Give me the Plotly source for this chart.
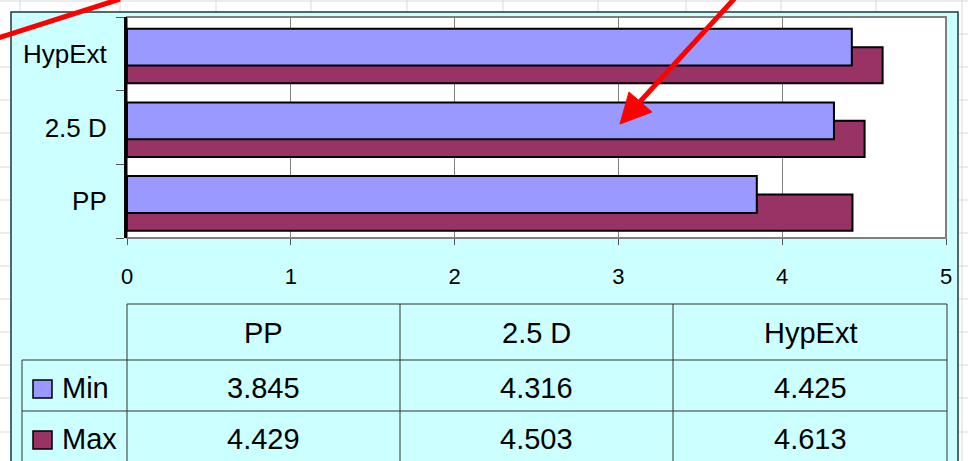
import plotly.graph_objects as go

# data
categories = ['PP', '2.5 D', 'HypExt']
min_vals = [3.845, 4.316, 4.425]
max_vals = [4.429, 4.503, 4.613]
series_names = ['Min', 'Max']

MIN_COLOR = '#9999FF'
MAX_COLOR = '#993366'
CYAN = '#CCFFFF'
FONT = 'Liberation Sans, Arial, Helvetica, sans-serif'

W, H = 968, 461
L, R, T, B = 127, 22, 17, 223
PW, PH = W - L - R, H - T - B


# pixel -> paper helpers for decorations
def px(x):
    return (x - L) / PW


def py(y):
    return (H - B - y) / PH


fig = go.Figure()

# Max first so Min sits on top of it (Excel overlap look)
fig.add_trace(go.Bar(y=categories, x=max_vals, orientation='h', name='Max',
                     marker=dict(color=MAX_COLOR, line=dict(color='black', width=2)),
                     offset=-0.40, width=0.49, hoverinfo='x'))
fig.add_trace(go.Bar(y=categories, x=min_vals, orientation='h', name='Min',
                     marker=dict(color=MIN_COLOR, line=dict(color='black', width=2)),
                     offset=-0.16, width=0.50, hoverinfo='x'))

shapes = []

# spreadsheet grid behind the chart
for gx in [20, 120, 216, 311, 407, 503, 598, 686, 781, 876, 962]:
    shapes.append(dict(type='line', xref='paper', yref='paper', layer='below',
                       x0=px(gx), x1=px(gx), y0=py(0), y1=py(H),
                       line=dict(color='#D9D9D9', width=1)))
for gy in [1, 34, 67, 100, 133, 167, 200, 233, 266, 299, 332, 365, 398, 432]:
    shapes.append(dict(type='line', xref='paper', yref='paper', layer='below',
                       x0=px(0), x1=px(W), y0=py(gy), y1=py(gy),
                       line=dict(color='#D9D9D9', width=1)))

# chart area
shapes.append(dict(type='rect', xref='paper', yref='paper', layer='below',
                   x0=px(11), x1=px(958), y0=py(12), y1=py(H + 5),
                   fillcolor=CYAN, line=dict(color='#1a3a3a', width=1.5)))
# plot area
shapes.append(dict(type='rect', xref='paper', yref='paper', layer='below',
                   x0=0, x1=1, y0=0, y1=1,
                   fillcolor='white', line=dict(color='#7f7f7f', width=2)))

# data table lines
tl = dict(color='#333333', width=1)
shapes.append(dict(type='line', xref='paper', yref='paper', x0=px(127), x1=px(947),
                   y0=py(304), y1=py(304), line=tl))
for ly in [360, 411]:
    shapes.append(dict(type='line', xref='paper', yref='paper', x0=px(22), x1=px(947),
                       y0=py(ly), y1=py(ly), line=tl))
for lx in [127, 400, 673, 947]:
    shapes.append(dict(type='line', xref='paper', yref='paper', x0=px(lx), x1=px(lx),
                       y0=py(304), y1=py(H + 5), line=tl))
shapes.append(dict(type='line', xref='paper', yref='paper', x0=px(22), x1=px(22),
                   y0=py(360), y1=py(H + 5), line=tl))

# legend keys in the table
for ky, col in [(389, MIN_COLOR), (440, MAX_COLOR)]:
    shapes.append(dict(type='rect', xref='paper', yref='paper',
                       x0=px(33), x1=px(52), y0=py(ky - 9), y1=py(ky + 9),
                       fillcolor=col, line=dict(color='black', width=1.5)))

# red arrows
red = dict(color='#FF0000', width=5)
shapes.append(dict(type='line', xref='paper', yref='paper',
                   x0=px(-5), y0=py(39), x1=px(120), y1=py(-1), line=red))
shapes.append(dict(type='line', xref='paper', yref='paper',
                   x0=px(735), y0=py(-2), x1=px(636), y1=py(106), line=red))
shapes.append(dict(type='path', xref='paper', yref='paper',
                   path='M {} {} L {} {} L {} {} Z'.format(px(620), py(124), px(629), py(92),
                                                         px(652), py(112)),
                   fillcolor='#FF0000', line=dict(color='#FF0000', width=1)))

annotations = []
col_centers = [263.5, 536.5, 810]
for cx, cat, mn, mx in zip(col_centers, categories, min_vals, max_vals):
    for ty, txt in [(333, cat), (388, '{:.3f}'.format(mn)), (439, '{:.3f}'.format(mx))]:
        annotations.append(dict(xref='paper', yref='paper', x=px(cx), y=py(ty),
                                text=txt, showarrow=False, xanchor='center', yanchor='middle',
                                font=dict(size=29, color='black', family=FONT)))
for ty, name in [(388, series_names[0]), (439, series_names[1])]:
    annotations.append(dict(xref='paper', yref='paper', x=px(60), y=py(ty),
                            text=name, showarrow=False, xanchor='left', yanchor='middle',
                            font=dict(size=29, color='black', family=FONT)))

fig.update_layout(
    width=W, height=H,
    margin=dict(l=L, r=R, t=T, b=B, pad=0),
    paper_bgcolor='white',
    plot_bgcolor='white',
    barmode='overlay',
    showlegend=False,
    font=dict(family=FONT, color='black'),
    shapes=shapes,
    annotations=annotations,
    xaxis=dict(range=[0, 5], dtick=1, showgrid=True, gridcolor='#7f7f7f', gridwidth=1,
               zeroline=False, showline=False, ticks='outside', ticklen=6,
               tickcolor='#555555', tickfont=dict(size=22), ticklabelstandoff=13,
               fixedrange=True),
    yaxis=dict(type='category', categoryorder='array', categoryarray=categories,
               range=[-0.5, 2.5], tickson='boundaries', ticks='outside', ticklen=8,
               tickcolor='#555555', showgrid=False, showline=True, linecolor='black',
               linewidth=3, tickfont=dict(size=26), ticklabelstandoff=12,
               fixedrange=True),
)

# drop the default page margin so the figure sits at the window's corner
fig.write_html("out.html", config={'displayModeBar': False},
               post_script="document.body.style.margin='0';")
